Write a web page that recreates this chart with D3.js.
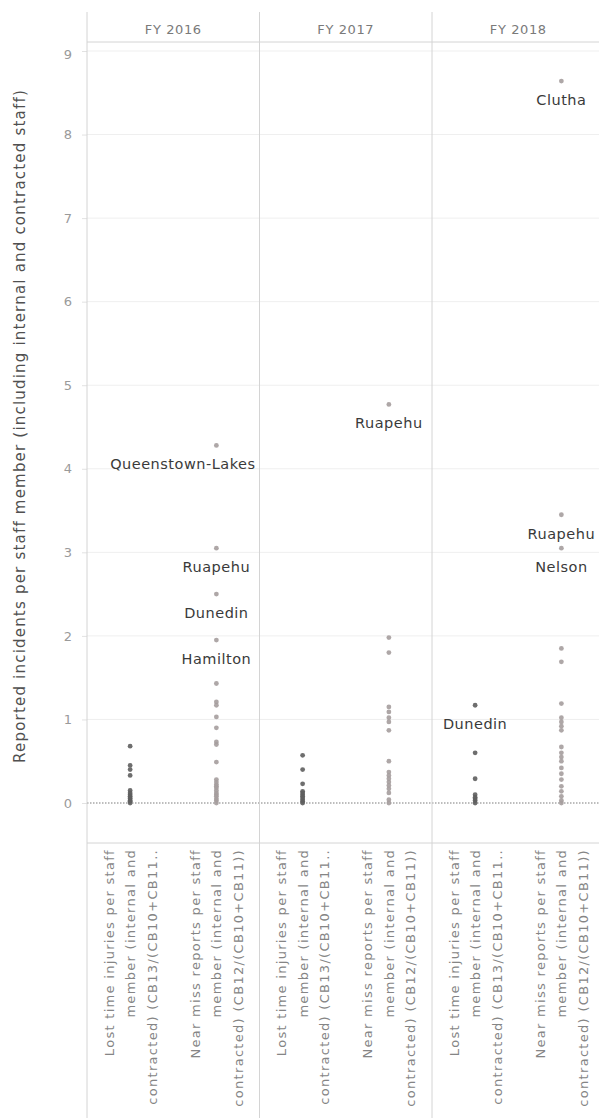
<!DOCTYPE html>
<html>
<head>
<meta charset="utf-8">
<script src="https://cdn.jsdelivr.net/npm/d3@7"></script>
<style>
  html, body { margin: 0; padding: 0; background: #fff; }
  svg { display: block; font-family: "DejaVu Sans", sans-serif; }
</style>
</head>
<body>
<svg id="chart" width="599" height="1118"></svg>
<script>
// ---------- data ----------
const years = ["FY 2016", "FY 2017", "FY 2018"];
const measures = ["Lost time injuries", "Near miss reports"];
const measureLabelLines = [
  ["Lost time injuries per staff", "member (internal and", "contracted) (CB13/(CB10+CB11.."],
  ["Near miss reports per staff", "member (internal and", "contracted) (CB12/(CB10+CB11))"]
];
const yTicks = [0, 1, 2, 3, 4, 5, 6, 7, 8, 9];

const lost2016 = [0.68, 0.45, 0.40, 0.33, 0.15, 0.12, 0.10, 0.08, 0.06, 0.05, 0.03, 0.02, 0.0];
const near2016 = [4.28, 3.05, 2.50, 1.95, 1.43, 1.21, 1.17, 1.03, 0.90, 0.73, 0.70, 0.49,
                  0.28, 0.25, 0.22, 0.20, 0.18, 0.15, 0.12, 0.10, 0.08, 0.05, 0.03, 0.0];
const lost2017 = [0.57, 0.40, 0.23, 0.14, 0.12, 0.10, 0.08, 0.06, 0.04, 0.02, 0.0];
const near2017 = [4.77, 1.98, 1.80, 1.15, 1.09, 1.02, 0.97, 0.87, 0.50,
                  0.37, 0.33, 0.29, 0.25, 0.21, 0.17, 0.12, 0.04, 0.0];
const lost2018 = [1.17, 0.60, 0.29, 0.10, 0.07, 0.05, 0.03, 0.0];
const near2018 = [8.64, 3.45, 3.05, 1.85, 1.69, 1.19, 1.02, 0.97, 0.92, 0.87,
                  0.67, 0.60, 0.55, 0.50, 0.42, 0.35, 0.28, 0.20, 0.14, 0.08, 0.03, 0.0];

const pointLabels = [
  { year: "FY 2016", measure: 1, value: 4.28, name: "Queenstown-Lakes" },
  { year: "FY 2016", measure: 1, value: 3.05, name: "Ruapehu" },
  { year: "FY 2016", measure: 1, value: 2.50, name: "Dunedin" },
  { year: "FY 2016", measure: 1, value: 1.95, name: "Hamilton" },
  { year: "FY 2017", measure: 1, value: 4.77, name: "Ruapehu" },
  { year: "FY 2018", measure: 0, value: 1.17, name: "Dunedin" },
  { year: "FY 2018", measure: 1, value: 8.64, name: "Clutha" },
  { year: "FY 2018", measure: 1, value: 3.45, name: "Ruapehu" },
  { year: "FY 2018", measure: 1, value: 3.05, name: "Nelson" }
];

const yTitle = "Reported incidents per staff member (including internal and contracted staff)";

const seriesByYear = {
  "FY 2016": [lost2016, near2016],
  "FY 2017": [lost2017, near2017],
  "FY 2018": [lost2018, near2018]
};
const measureColors = ["#5e5e5e", "#a59d9d"];

// ---------- layout ----------
const svg = d3.select("#chart");
const W = 599, H = 1118;
const plotLeft = 87, panelW = 172.5;
const headerTop = 12, headerBottom = 42, plotBottom = 843;

const xYear = d3.scaleBand().domain(years).range([plotLeft, plotLeft + panelW * 3]);
const xMeasure = d3.scalePoint().domain(d3.range(measures.length)).range([0, panelW]).padding(0.5);
const y = d3.scaleLinear().domain([0, 9]).range([803, 51]);

const gridColor = "#efefef";
const borderColor = "#d4d4d4";

// gridlines
svg.append("g").selectAll("line").data(yTicks.filter(d => d > 0)).join("line")
  .attr("x1", plotLeft).attr("x2", W)
  .attr("y1", d => y(d)).attr("y2", d => y(d))
  .attr("stroke", gridColor).attr("stroke-width", 1);

// zero line dotted
svg.append("line")
  .attr("x1", plotLeft).attr("x2", W)
  .attr("y1", y(0)).attr("y2", y(0))
  .attr("stroke", "#a8a8a8").attr("stroke-width", 1.3)
  .attr("stroke-dasharray", "1.5,1.5");

// y axis
const yAxis = d3.axisLeft(y).tickValues(yTicks).tickSize(5).tickPadding(13).tickFormat(d3.format("d"));
const gy = svg.append("g").attr("transform", `translate(${plotLeft},0)`).call(yAxis);
gy.select(".domain").remove();
gy.selectAll(".tick line").attr("stroke", "#e2e2e2");
gy.selectAll(".tick text")
  .attr("fill", "#9a9a9a").style("font-size", "13px")
  .style("font-family", "DejaVu Sans, sans-serif")
  .attr("text-anchor", "middle").attr("x", -19);
gy.selectAll(".tick").filter(d => d === 9).select("text").attr("dy", "0.55em");

// structural lines
svg.append("line").attr("x1", plotLeft).attr("x2", W).attr("y1", headerBottom).attr("y2", headerBottom)
  .attr("stroke", borderColor);
svg.append("line").attr("x1", plotLeft).attr("x2", W).attr("y1", plotBottom).attr("y2", plotBottom)
  .attr("stroke", borderColor);
svg.append("g").selectAll("line").data(years).join("line")
  .attr("x1", d => xYear(d)).attr("x2", d => xYear(d))
  .attr("y1", headerTop).attr("y2", H)
  .attr("stroke", borderColor);

// headers
svg.append("g").selectAll("text").data(years).join("text")
  .attr("x", d => xYear(d) + xYear.bandwidth() / 2)
  .attr("y", 34)
  .attr("text-anchor", "middle")
  .attr("fill", "#7a7a7a")
  .style("font-size", "13px")
  .style("letter-spacing", "0.6px")
  .text(d => d);

// y title
svg.append("text")
  .attr("transform", `translate(25,426) rotate(-90)`)
  .attr("text-anchor", "middle")
  .attr("fill", "#505050")
  .style("font-size", "15px")
  .style("letter-spacing", "1.2px")
  .text(yTitle);

// points
years.forEach(yr => {
  const g = svg.append("g").attr("transform", `translate(${xYear(yr)},0)`);
  seriesByYear[yr].forEach((vals, mi) => {
    g.append("g").selectAll("circle").data(vals).join("circle")
      .attr("cx", xMeasure(mi))
      .attr("cy", d => y(d))
      .attr("r", 2.4)
      .attr("fill", measureColors[mi])
      .attr("fill-opacity", 0.9);
  });
});

// point labels
const labelG = svg.append("g");
pointLabels.forEach(p => {
  const cx = xYear(p.year) + xMeasure(p.measure);
  const t = labelG.append("text")
    .attr("y", y(p.value) + 24)
    .attr("fill", "#3a3a3a")
    .style("font-size", "14.5px")
    .style("letter-spacing", "0.5px")
    .text(p.name);
  const w = t.node().getComputedTextLength();
  const panelRight = xYear(p.year) + panelW - 4;
  let left = cx - w / 2;
  if (left + w > panelRight) left = panelRight - w;
  t.attr("x", left);
});

// x labels (rotated)
years.forEach(yr => {
  measures.forEach((m, mi) => {
    const cx = xYear(yr) + xMeasure(mi);
    const lines = measureLabelLines[mi];
    const n = lines.length, lh = 21.5;
    lines.forEach((ln, li) => {
      const lx = cx + (li - (n - 1) / 2) * lh + 5;
      svg.append("text")
        .attr("transform", `translate(${lx},849) rotate(-90)`)
        .attr("text-anchor", "end")
        .attr("fill", "#858585")
        .style("font-size", "13px")
        .style("letter-spacing", "1.3px")
        .text(ln);
    });
  });
});
</script>
</body>
</html>
